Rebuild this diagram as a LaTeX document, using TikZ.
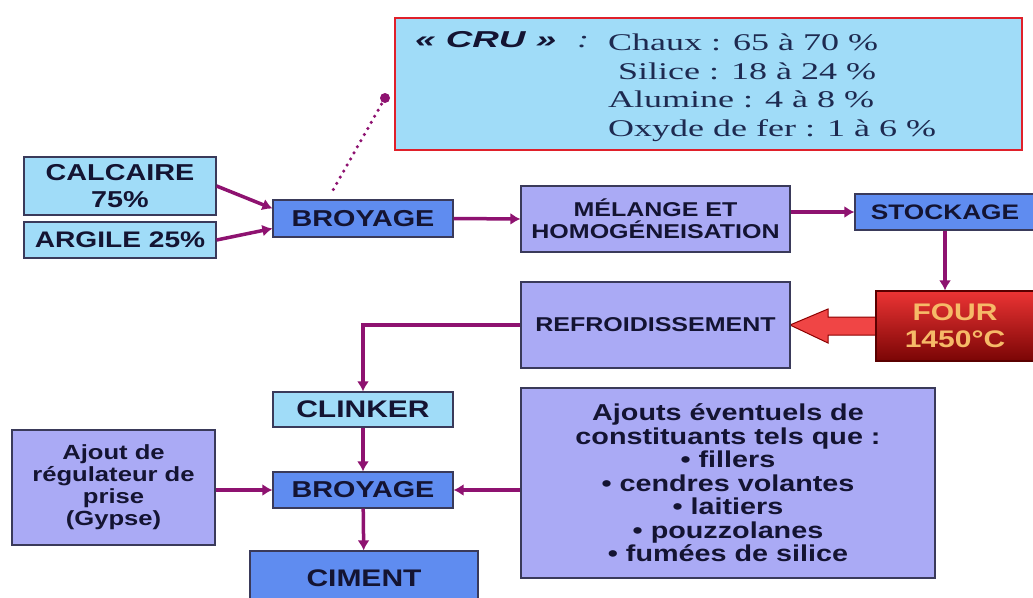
\documentclass[tikz,border=0pt]{standalone}
\usepackage{fontspec}
\setsansfont{Liberation Sans}[FakeStretch=1.25]
\newfontfamily\crufont{Liberation Serif}[FakeStretch=1.5]
\newfontfamily\crulabelfont{Liberation Sans}[FakeStretch=1.6]
\usetikzlibrary{arrows.meta}
\usepackage{xcolor}

\definecolor{paleblue}{HTML}{A0DCF8}
\definecolor{midblue}{HTML}{5F8CF0}
\definecolor{lavender}{HTML}{AAAAF5}
\definecolor{boxline}{HTML}{3A3A5A}
\definecolor{textnavy}{HTML}{141432}
\definecolor{crunavy}{HTML}{1E2A50}
\definecolor{crured}{HTML}{E0202A}
\definecolor{flowpurple}{HTML}{8E1270}
\definecolor{fourtop}{HTML}{EC3434}
\definecolor{fourbot}{HTML}{7A0505}
\definecolor{fourline}{HTML}{5A0000}
\definecolor{fourtext}{HTML}{F6BA68}
\definecolor{arrowred}{HTML}{F04545}

\newcommand{\bfsize}[2]{\fontsize{#1}{#2}\selectfont}

\tikzset{
  box/.style={draw=boxline, line width=1.2pt, text=textnavy, align=center, inner sep=0pt},
  flow/.style={->, draw=flowpurple, line width=3.5pt},
}

\begin{document}
\begin{tikzpicture}[x=1pt, y=1pt, >={Latex[length=10pt,width=12pt]}]
      \clip (0,0) rectangle (1033,-597);
      \fill [white] (0,0) rectangle (1033,-597);

      % composition du cru
      \node [box, draw=crured, line width=2pt, fill=paleblue, minimum width=627pt, minimum height=132pt, name=cru] at (708.5,-84) {};
      \node [anchor=base west, inner sep=0pt, text=textnavy, font=\crulabelfont\bfseries\itshape\bfsize{23}{23}, name=crulabel] at (415,-47) {« CRU »};
      \node [anchor=base west, inner sep=0pt, text=crunavy, font=\crufont\itshape\bfsize{24}{24}, name=crucolon] at (577,-47) {:};
      \node [anchor=north west, inner sep=0pt, align=left, text=crunavy, font=\crufont\bfsize{24}{28.5}, name=crulist] at (608,-34)
      {Chaux : 65 à 70 \%\\\hspace{10pt}Silice : 18 à 24 \%\\Alumine : 4 à 8 \%\\Oxyde de fer : 1 à 6 \%};
      \coordinate (crudot) at (385,-98);
      \coordinate (crufoot) at (333,-190);
      \draw [flowpurple, line width=3.5pt, line cap=round, dash pattern=on 0pt off 7pt] (crudot) -- (crufoot);
      \fill [flowpurple] (crudot) circle (5);

      % matieres premieres
      \node [box, fill=paleblue, minimum width=192pt, minimum height=58pt, font=\sffamily\bfseries\bfsize{23}{27}, name=calcaire] at (120,-186) {CALCAIRE\\75\%};
      \node [box, fill=paleblue, minimum width=192pt, minimum height=36pt, font=\sffamily\bfseries\bfsize{22.5}{24}, name=argile] at (120,-240) {ARGILE 25\%};
      \node [box, fill=midblue, minimum width=180pt, minimum height=37pt, font=\sffamily\bfseries\bfsize{23}{24}, name=broy1] at (363,-218.5) {BROYAGE};
      \node [box, fill=lavender, minimum width=269pt, minimum height=66pt, font=\sffamily\bfseries\bfsize{20}{22}, name=melange] at (655.5,-219) {MÉLANGE ET\\HOMOGÉNEISATION};
      \node [box, fill=midblue, minimum width=180pt, minimum height=36pt, font=\sffamily\bfseries\bfsize{21}{22}, name=stockage] at (945,-212) {STOCKAGE};

      % cuisson
      \draw [fill=arrowred, draw=red!55!black, line width=1pt] (790,-325) -- ++(38,16) -- ++(0,-8) -- ++(48,0) -- ++(0,-18) -- ++(-48,0) -- ++(0,-8) -- cycle;
      \node [box, top color=fourtop, bottom color=fourbot, draw=fourline, minimum width=158pt, minimum height=70pt, text=fourtext, font=\sffamily\bfseries\bfsize{24}{27}, name=four] at (955,-326) {FOUR\\1450°C};
      \node [box, fill=lavender, minimum width=269pt, minimum height=86pt, font=\sffamily\bfseries\bfsize{20}{22}, name=refroid] at (655.5,-325) {REFROIDISSEMENT};

      % broyage du clinker
      \node [box, fill=paleblue, minimum width=180pt, minimum height=35pt, font=\sffamily\bfseries\bfsize{24}{24}, name=clinker] at (363,-409.5) {CLINKER};
      \node [box, fill=midblue, minimum width=180pt, minimum height=36pt, font=\sffamily\bfseries\bfsize{23}{24}, name=broy2] at (363,-490) {BROYAGE};
      \node [box, fill=midblue, minimum width=228pt, minimum height=54pt, font=\sffamily\bfseries\bfsize{24}{24}, name=ciment] at (364,-578) {CIMENT};
      \node [box, fill=lavender, minimum width=203pt, minimum height=115pt, font=\sffamily\bfseries\bfsize{20.5}{22}, name=gypse] at (113.5,-487.5)
      {Ajout de\\régulateur de\\prise\\(Gypse)};
      \node [box, fill=lavender, minimum width=414pt, minimum height=190pt, font=\sffamily\bfseries\bfsize{23}{23.5}, name=ajouts] at (728,-483)
      {Ajouts éventuels de\\constituants tels que :\\• fillers\\• cendres volantes\\• laitiers\\• pouzzolanes\\• fumées de silice};

      \draw [flow] (calcaire.east) -- ([yshift=10pt]broy1.west);
      \draw [flow] (argile.east) -- ([yshift=-10pt]broy1.west);
      \draw [flow] (broy1.east) -- (melange.west);
      \draw [flow] (melange.east |- stockage.west) -- (stockage.west);
      \draw [flow] (stockage.south) -- (stockage.south |- four.north);
      \draw [flow] (refroid.west) -| (clinker.north);
      \draw [flow] (clinker) -- (broy2);
      \draw [flow] (broy2) -- (ciment);
      \draw [flow] (gypse.east |- broy2) -- (broy2.west);
      \draw [flow] (ajouts.west |- broy2) -- (broy2.east);
    \end{tikzpicture}
\end{document}
